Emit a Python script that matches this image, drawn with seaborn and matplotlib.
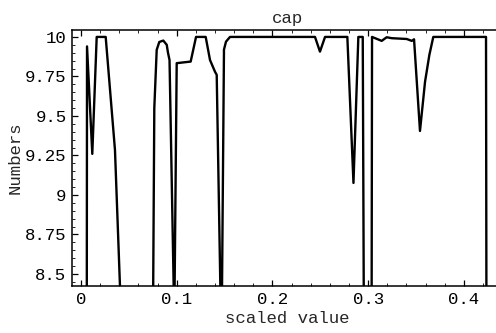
import matplotlib
matplotlib.use("Agg")
import matplotlib.pyplot as plt
from matplotlib.ticker import MultipleLocator, FixedLocator
import numpy as np
import pandas as pd
import seaborn as sns

# cap response against the scaled value
scaled_value = [
    0.0060, 0.0063, 0.0118, 0.0164, 0.0258, 0.0355, 0.0433,
    0.0750, 0.0766, 0.0791, 0.0818, 0.0860, 0.0896, 0.0909, 0.0925, 0.0975,
    0.1000, 0.1146, 0.1202, 0.1303, 0.1348, 0.1400, 0.1418, 0.1468,
    0.1494, 0.1515, 0.1557, 0.2445, 0.2497, 0.2550,
    0.2783, 0.2847, 0.2898, 0.2944, 0.2957, 0.3036,
    0.3041, 0.3142, 0.3194, 0.3247, 0.3403, 0.3456, 0.3480,
    0.3542, 0.3595, 0.3640, 0.3681, 0.4232, 0.4237,
]
numbers = [
    8.00, 9.94, 9.26, 10.00, 10.00, 9.285, 8.00,
    8.00, 9.55, 9.918, 9.968, 9.977, 9.95, 9.90, 9.854, 8.20,
    9.834, 9.844, 10.00, 10.00, 9.854, 9.78, 9.76, 8.00,
    9.92, 9.97, 10.00, 10.00, 9.907, 10.00,
    10.00, 9.076, 10.00, 10.00, 8.00, 8.00,
    10.00, 9.975, 9.998, 9.992, 9.987, 9.975, 9.985,
    9.405, 9.717, 9.886, 10.00, 10.00, 8.00,
]
x_ticks = [0, 0.1, 0.2, 0.3, 0.4]
x_tick_labels = ["0", "0.1", "0.2", "0.3", "0.4"]
y_ticks = [8.5, 8.75, 9.0, 9.25, 9.5, 9.75, 10.0]
y_tick_labels = ["8.5", "8.75", "9", "9.25", "9.5", "9.75", "10"]

df = pd.DataFrame({"scaled value": scaled_value, "Numbers": numbers})

sns.set_theme(style="ticks")
plt.rcParams["font.family"] = ["Liberation Mono", "DejaVu Sans Mono"]
plt.rcParams["axes.linewidth"] = 1.1

fig = plt.figure(figsize=(4.96, 3.33), dpi=100)
ax = fig.add_axes([72 / 496, 47 / 333, 430 / 496, 256.5 / 333])

sns.lineplot(data=df, x="scaled value", y="Numbers", sort=False,
             estimator=None, color="black", linewidth=1.7, ax=ax)

ax.set_xlim(-0.0094, 0.4399)
ax.set_ylim(8.424, 10.047)

ax.xaxis.set_major_locator(FixedLocator(x_ticks))
ax.set_xticklabels(x_tick_labels)
ax.yaxis.set_major_locator(FixedLocator(y_ticks))
ax.set_yticklabels(y_tick_labels)
ax.xaxis.set_minor_locator(MultipleLocator(0.02))
ax.yaxis.set_minor_locator(MultipleLocator(0.05))

ax.tick_params(which="major", direction="in", length=4, width=0.9,
               top=True, right=True, labelsize=12.5, pad=4, colors="black")
ax.tick_params(which="minor", direction="in", length=2, width=0.7,
               top=True, right=True)
for s in ax.spines.values():
    s.set_color("black")

ax.set_title("cap", fontsize=12.5, pad=5)
ax.set_xlabel("scaled value", fontsize=12.5, labelpad=3)
ax.set_ylabel("Numbers", fontsize=12.5, labelpad=1.5)

fig.savefig("out.png", dpi=100, facecolor="white")
